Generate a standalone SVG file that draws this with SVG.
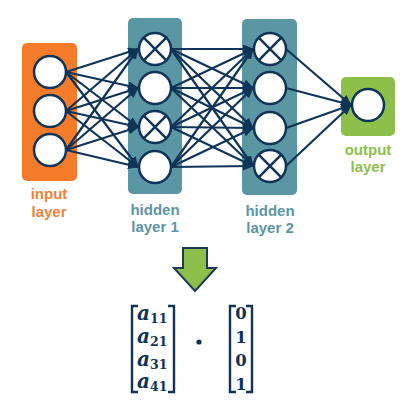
<svg xmlns="http://www.w3.org/2000/svg" width="413" height="405" viewBox="0 0 413 405">
<style>
.n{fill:#fff;stroke:#0f3457;stroke-width:2.5}
.x{stroke:#0f3457;stroke-width:2.5}
.c{stroke:#0f3457;stroke-width:2.2;fill:none;marker-end:url(#ah)}
.lbl{font-family:"Liberation Sans",Arial,sans-serif;font-weight:bold;font-size:15px;text-anchor:middle}
.m{font-family:"DejaVu Serif","Liberation Serif",serif;font-weight:bold;fill:#0f3457}
.br{fill:none;stroke:#0f3457;stroke-width:2.4}
</style>
<defs>
<marker id="ah" markerUnits="userSpaceOnUse" markerWidth="11" markerHeight="9" refX="10" refY="4.5" orient="auto">
<path d="M0,0 L11,4.5 L0,9 z" fill="#0f3457"/>
</marker>
</defs>
<rect x="0" y="0" width="413" height="405" fill="#fff"/>
<g id="input-layer">
<rect x="22" y="43" width="55" height="138" rx="5" fill="#f47b2a"/>
<circle class="n" cx="50" cy="72" r="16"/>
<circle class="n" cx="50" cy="111" r="16"/>
<circle class="n" cx="50" cy="150" r="16"/>
<text class="lbl" x="49" y="199" fill="#f08038">input</text>
<text class="lbl" x="49" y="217" fill="#f08038">layer</text>
</g>
<g id="hidden-layer-1">
<rect x="128" y="18" width="54" height="176" rx="5" fill="#5b96a5"/>
<circle class="n" cx="155" cy="49" r="16"/>
<path class="x" d="M143.7,37.7 L166.3,60.3 M166.3,37.7 L143.7,60.3"/>
<circle class="n" cx="155" cy="88" r="16"/>
<circle class="n" cx="155" cy="127" r="16"/>
<path class="x" d="M143.7,115.7 L166.3,138.3 M166.3,115.7 L143.7,138.3"/>
<circle class="n" cx="155" cy="167" r="16"/>
<text class="lbl" x="155" y="215" fill="#5b96a5">hidden</text>
<text class="lbl" x="155" y="232" fill="#5b96a5">layer 1</text>
</g>
<g id="hidden-layer-2">
<rect x="242" y="19" width="55" height="176" rx="5" fill="#5b96a5"/>
<circle class="n" cx="270" cy="49" r="16"/>
<path class="x" d="M258.7,37.7 L281.3,60.3 M281.3,37.7 L258.7,60.3"/>
<circle class="n" cx="270" cy="88" r="16"/>
<circle class="n" cx="270" cy="128" r="16"/>
<circle class="n" cx="270" cy="166" r="16"/>
<path class="x" d="M258.7,154.7 L281.3,177.3 M281.3,154.7 L258.7,177.3"/>
<text class="lbl" x="270" y="216" fill="#5b96a5">hidden</text>
<text class="lbl" x="270" y="233" fill="#5b96a5">layer 2</text>
</g>
<g id="output-layer">
<rect x="341" y="77" width="54" height="59" rx="5" fill="#8cc04b"/>
<circle class="n" cx="368" cy="105" r="16"/>
<text class="lbl" x="368" y="155" fill="#8cc04b">output</text>
<text class="lbl" x="368" y="172" fill="#8cc04b">layer</text>
</g>
<g id="connectors">
<path class="c" d="M66,72 L138,49"/><path class="c" d="M66,72 L138,88"/><path class="c" d="M66,72 L138,127"/><path class="c" d="M66,72 L138,167"/>
<path class="c" d="M66,111 L138,49"/><path class="c" d="M66,111 L138,88"/><path class="c" d="M66,111 L138,127"/><path class="c" d="M66,111 L138,167"/>
<path class="c" d="M66,150 L138,49"/><path class="c" d="M66,150 L138,88"/><path class="c" d="M66,150 L138,127"/><path class="c" d="M66,150 L138,167"/>
<path class="c" d="M171,49 L253,49"/><path class="c" d="M171,49 L253,88"/><path class="c" d="M171,49 L253,128"/><path class="c" d="M171,49 L253,166"/>
<path class="c" d="M171,88 L253,49"/><path class="c" d="M171,88 L253,88"/><path class="c" d="M171,88 L253,128"/><path class="c" d="M171,88 L253,166"/>
<path class="c" d="M171,127 L253,49"/><path class="c" d="M171,127 L253,88"/><path class="c" d="M171,127 L253,128"/><path class="c" d="M171,127 L253,166"/>
<path class="c" d="M171,167 L253,49"/><path class="c" d="M171,167 L253,88"/><path class="c" d="M171,167 L253,128"/><path class="c" d="M171,167 L253,166"/>
<path class="c" d="M286,49 L351,105"/><path class="c" d="M286,88 L351,105"/><path class="c" d="M286,128 L351,105"/><path class="c" d="M286,166 L351,105"/>
</g>
<g id="down-arrow">
<path d="M183,248 L207,248 L207,268 L216,268 L195,291 L174,268 L183,268 z" fill="#8cc04b" stroke="#1d3a55" stroke-width="2" stroke-linejoin="miter"/>
</g>
<g id="matrix-a">
<path class="br" d="M138,306 L132,306 L132,392 L138,392"/>
<path class="br" d="M168,306 L174,306 L174,392 L168,392"/>
<text class="m" font-style="italic" font-size="20" x="137" y="320">a<tspan font-size="12.5" dy="2.5" font-style="normal">11</tspan></text>
<text class="m" font-style="italic" font-size="20" x="137" y="343">a<tspan font-size="12.5" dy="2.5" font-style="normal">21</tspan></text>
<text class="m" font-style="italic" font-size="20" x="137" y="366">a<tspan font-size="12.5" dy="2.5" font-style="normal">31</tspan></text>
<text class="m" font-style="italic" font-size="20" x="137" y="388">a<tspan font-size="12.5" dy="2.5" font-style="normal">41</tspan></text>
</g>
<circle id="dot" cx="199" cy="342" r="2.6" fill="#0f3457"/>
<g id="matrix-b">
<path class="br" d="M236,306 L230,306 L230,392 L236,392"/>
<path class="br" d="M246,306 L252,306 L252,392 L246,392"/>
<text class="m" font-size="16.5" text-anchor="middle" x="241" y="319">0</text>
<text class="m" font-size="16.5" text-anchor="middle" x="241" y="343">1</text>
<text class="m" font-size="16.5" text-anchor="middle" x="241" y="366">0</text>
<text class="m" font-size="16.5" text-anchor="middle" x="241" y="390">1</text>
</g>
</svg>
